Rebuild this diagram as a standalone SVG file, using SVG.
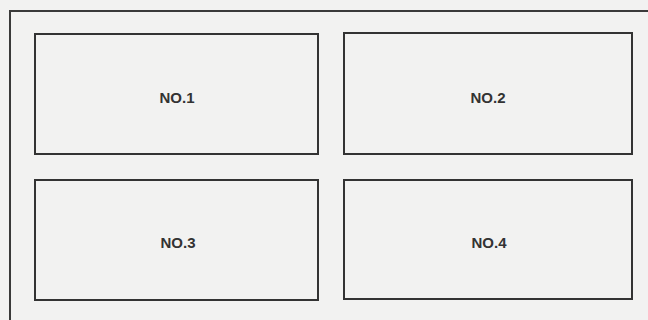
<svg xmlns="http://www.w3.org/2000/svg" width="648" height="320" viewBox="0 0 648 320">
  <style>
    .frame { fill: none; stroke: #3a3a3a; stroke-width: 2; }
    .box { fill: none; stroke: #333333; stroke-width: 2; }
    .label { font-family: "Liberation Sans", Arial, sans-serif; font-size: 15px; font-weight: bold; fill: #333333; text-anchor: middle; }
  </style>
  <rect x="0" y="0" width="648" height="320" fill="#f2f2f1"/>
  <rect class="frame" x="10" y="11" width="650" height="320"/>
  <g id="node1">
    <rect class="box" x="35" y="34" width="283" height="120"/>
    <text class="label" x="177" y="103">NO.1</text>
  </g>
  <g id="node2">
    <rect class="box" x="344" y="33" width="288" height="121"/>
    <text class="label" x="488" y="103">NO.2</text>
  </g>
  <g id="node3">
    <rect class="box" x="35" y="180" width="283" height="120"/>
    <text class="label" x="178" y="248">NO.3</text>
  </g>
  <g id="node4">
    <rect class="box" x="344" y="180" width="288" height="119"/>
    <text class="label" x="489" y="248">NO.4</text>
  </g>
  <g id="connectors"></g>
</svg>
